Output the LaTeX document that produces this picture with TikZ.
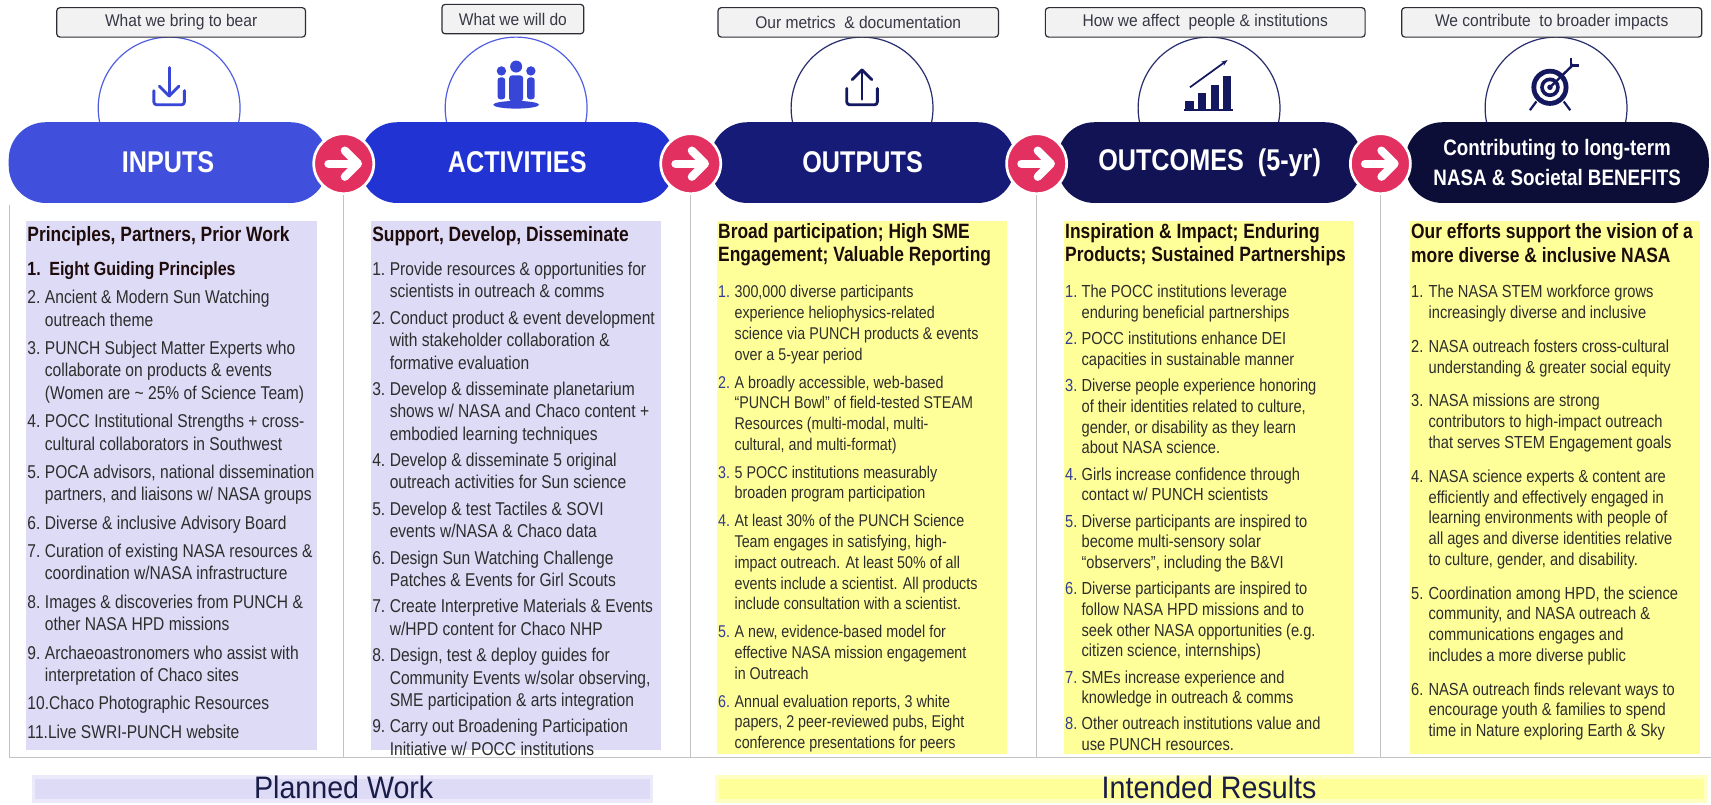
\documentclass[tikz,border=0pt]{standalone}
\usepackage{fontspec}
\setmainfont{Liberation Sans}[FakeStretch=0.84]
\newfontfamily\lblfont{Liberation Sans}[FakeStretch=0.92]
\usetikzlibrary{arrows.meta}

\definecolor{pillA}{RGB}{64,80,220}
\definecolor{pillB}{RGB}{34,51,212}
\definecolor{pillC}{RGB}{21,27,118}
\definecolor{pillD}{RGB}{17,19,84}
\definecolor{pillE}{RGB}{12,14,56}
\definecolor{pinkdot}{RGB}{226,48,96}
\definecolor{lav}{RGB}{222,219,246}
\definecolor{yel}{RGB}{255,255,153}
\definecolor{lblfill}{RGB}{242,242,242}
\definecolor{lblline}{RGB}{45,45,55}
\definecolor{lbltext}{RGB}{55,55,70}
\definecolor{domeA}{RGB}{80,95,225}
\definecolor{domeB}{RGB}{40,45,110}
\definecolor{iconA}{RGB}{55,70,215}
\definecolor{iconB}{RGB}{20,25,95}
\definecolor{sepgray}{RGB}{195,195,195}
\definecolor{bodytext}{RGB}{45,45,45}
\definecolor{headtext}{RGB}{30,12,12}
\definecolor{numblue}{RGB}{50,60,150}
\definecolor{bottext}{RGB}{25,28,70}

% item numbers and hanging indents
\newcommand{\inum}[1]{\makebox[16pt][l]{#1}}
\newcommand{\iind}{\hspace*{16pt}}
\newcommand{\ynum}[1]{\makebox[15pt][l]{\textcolor{numblue}{#1}}}
\newcommand{\yind}{\hspace*{15pt}}
\newcommand{\colhead}[1]{{\fontsize{19}{21}\selectfont\bfseries\color{headtext}#1}}

\begin{document}
\begin{tikzpicture}[x=1pt,y=-1pt]
	\tikzstyle{dome} = [circle, draw, fill=white, line width=1.1pt, minimum size=130pt, inner sep=0pt]
	\tikzstyle{pill} = [rectangle, rounded corners=34pt, minimum height=74pt, inner sep=0pt, text=white, align=center]
	\tikzstyle{arrowdot} = [circle, fill=pinkdot, draw=white, line width=2.5pt, minimum size=55pt, inner sep=0pt]
	\tikzstyle{wharrow} = [draw=white, line width=7.5pt, line cap=round, line join=round]
	\tikzstyle{lbl} = [rectangle, draw=lblline, fill=lblfill, rounded corners=3pt, line width=1.1pt, minimum height=27pt, inner sep=0pt, text=lbltext, font=\lblfont\fontsize{15.5}{17}\selectfont]
	\tikzstyle{colbox} = [rectangle, anchor=north west, minimum width=266pt, inner sep=0pt]
	\tikzstyle{txt} = [anchor=north west, align=left, inner sep=0pt, text=bodytext]
	\tikzstyle{sepline} = [draw=sepgray, line width=1.2pt]
	\tikzstyle{icon} = [line width=2.6pt, line cap=round, line join=round]
	\tikzstyle{bar} = [rectangle, minimum height=22pt, inner sep=0pt, line width=3pt]
	\tikzstyle{bottom} = [inner sep=0pt, text=bottext, font=\lblfont\fontsize{28.5}{30}\selectfont]

\path[use as bounding box, fill=white] (0,0) rectangle (1568,737);

%domes behind the pills
\foreach \name/\x/\c in {dome1/155/domeA, dome2/473/domeA, dome3/790/domeB, dome4/1108/domeB, dome5/1426/domeB}
	\node[dome, draw=\c] (\name) at (\x, 99) {};

%icons
\begin{scope}[shift={(dome1.center)}, iconA]
	\draw[icon] (0,-37) -- (0,-11);
	\draw[icon] (-9,-20) -- (0,-11) -- (9,-20);
	\draw[icon, rounded corners=2.5pt] (-14,-16) -- (-14,-3) -- (14,-3) -- (14,-16);
\end{scope}
\begin{scope}[shift={(dome2.center)}, iconA]
	\fill (0,-38) circle (5.5pt);
	\fill[rounded corners=3pt] (-6.5,-30) rectangle (6.5,-6);
	\fill (-13.5,-34) circle (4.3pt);
	\fill (13.5,-34) circle (4.3pt);
	\fill[rounded corners=2.5pt] (-17,-28) rectangle (-10,-8);
	\fill[rounded corners=2.5pt] (10,-28) rectangle (17,-8);
	\fill (0,-3) ellipse (21pt and 3.5pt);
\end{scope}
\begin{scope}[shift={(dome3.center)}, iconB]
	\draw[icon] (0,-8) -- (0,-35);
	\draw[icon] (-9,-26) -- (0,-35) -- (9,-26);
	\draw[icon, rounded corners=2.5pt] (-14,-18) -- (-14,-3) -- (14,-3) -- (14,-18);
\end{scope}
\begin{scope}[shift={(dome4.center)}, iconB]
	\fill (-22,1) rectangle (-14,-6.5);
	\fill (-10,1) rectangle (-2.5,-14);
	\fill (2,1) rectangle (9,-21.5);
	\fill (13,1) rectangle (20.5,-29.5);
	\draw[line width=1.8pt] (-23,1.5) -- (21.5,1.5);
	\draw[line width=1.6pt, -{Stealth[length=6pt]}] (-17.5,-19) -- (17,-44);
\end{scope}
\begin{scope}[shift={(dome5.center)}, iconB]
	\draw[line width=2pt] (-18,-6) -- (-24,2);
	\draw[line width=2pt] (7,-6) -- (13,2);
	\fill (-5.6,-19) circle (17pt);
	\fill[white] (-5.6,-19) circle (12.5pt);
	\fill (-5.6,-19) circle (9pt);
	\fill[white] (-5.6,-19) circle (5.5pt);
	\fill (-5.6,-19) circle (2.5pt);
	\draw[line width=2.2pt] (-5.6,-19) -- (16,-40);
	\draw[line width=2pt] (14,-46) -- (14,-39) -- (21,-39);
\end{scope}

%pills
\foreach \name/\x/\w/\c/\fs/\t in {pill1/154/292/pillA/27.5/INPUTS, pill2/474/288/pillB/27.5/ACTIVITIES, pill3/790.5/279/pillC/27.5/OUTPUTS, pill4/1108.5/279/pillD/27.5/{OUTCOMES\ \ (5-yr)}, pill5/1427/278/pillE/20.5/{Contributing to long-term\\NASA \& Societal BENEFITS}}
	\node[pill, fill=\c, minimum width=\w pt, font=\fontsize{\fs}{27}\selectfont\bfseries] (\name) at (\x, 149) {\t};

%arrows between the pills
\foreach \name/\x in {arr1/315, arr2/633, arr3/950, arr4/1265} {
	\node[arrowdot] (\name) at (\x, 150) {};
	\draw[wharrow] ([xshift=-14pt]\name.center) -- ([xshift=11pt]\name.center);
	\draw[wharrow] ([xshift=1pt,yshift=12pt]\name.center) -- ([xshift=13pt]\name.center) -- ([xshift=1pt,yshift=-12pt]\name.center);
}

%labels on top
\foreach \name/\x/\y/\w/\t in {lbl1/166/20.5/228/What we bring to bear, lbl2/470/17.5/130/What we will do, lbl3/786.5/20.5/257/{Our metrics\ \ \& documentation}, lbl4/1104.5/20.5/293/{How we affect\ \ people \& institutions}, lbl5/1422/20.5/275/{We contribute\ \ to broader impacts}}
	\node[lbl, minimum width=\w pt] (\name) at (\x, \y) {\t};

%column boxes
\foreach \name/\x/\c/\h in {box1/24/lav/485, box2/340/lav/485, box3/657/yel/489, box4/975/yel/489, box5/1292/yel/489}
	\node[colbox, fill=\c, minimum height=\h pt] (\name) at (\x, 202) {};

%separators
\coordinate (topL) at (9,188);
\coordinate (baseL) at (9,694);
\coordinate (baseR) at (1568,694);
\draw[sepline] (topL) -- (baseL) -- (baseR);
\foreach \a in {arr1, arr2, arr3, arr4}
	\draw[sepline] (\a.south) -- (\a.south |- baseL);

%column texts
\node[txt, font=\fontsize{17}{20.5}\selectfont] (t1) at ([xshift=1pt,yshift=-5pt]box1.north west) {%
\colhead{Principles, Partners, Prior Work}\\[11pt]
{\fontsize{17.5}{21}\selectfont\bfseries\color{headtext}\makebox[20pt][l]{1.}Eight Guiding Principles}\\[5.5pt]
\inum{2.}Ancient \& Modern Sun Watching\\
\iind outreach theme\\[5.5pt]
\inum{3.}PUNCH Subject Matter Experts who\\
\iind collaborate on products \& events\\
\iind (Women are \textasciitilde{} 25\% of Science Team)\\[5.5pt]
\inum{4.}POCC Institutional Strengths + cross-\\
\iind cultural collaborators in Southwest\\[5.5pt]
\inum{5.}POCA advisors, national dissemination\\
\iind partners, and liaisons w/ NASA groups\\[5.5pt]
\inum{6.}Diverse \& inclusive Advisory Board\\[5.5pt]
\inum{7.}Curation of existing NASA resources \&\\
\iind coordination w/NASA infrastructure\\[5.5pt]
\inum{8.}Images \& discoveries from PUNCH \&\\
\iind other NASA HPD missions\\[5.5pt]
\inum{9.}Archaeoastronomers who assist with\\
\iind interpretation of Chaco sites\\[5.5pt]
10.Chaco Photographic Resources\\[5.5pt]
11.Live SWRI-PUNCH website};

\node[txt, font=\fontsize{17}{20.5}\selectfont] (t2) at ([xshift=1pt,yshift=-5pt]box2.north west) {%
\colhead{Support, Develop, Disseminate}\\[11pt]
\inum{1.}Provide resources \& opportunities for\\
\iind scientists in outreach \& comms\\[3.7pt]
\inum{2.}Conduct product \& event development\\
\iind with stakeholder collaboration \&\\
\iind formative evaluation\\[3.7pt]
\inum{3.}Develop \& disseminate planetarium\\
\iind shows w/ NASA and Chaco content +\\
\iind embodied learning techniques\\[3.7pt]
\inum{4.}Develop \& disseminate 5 original\\
\iind outreach activities for Sun science\\[3.7pt]
\inum{5.}Develop \& test Tactiles \& SOVI\\
\iind events w/NASA \& Chaco data\\[3.7pt]
\inum{6.}Design Sun Watching Challenge\\
\iind Patches \& Events for Girl Scouts\\[3.7pt]
\inum{7.}Create Interpretive Materials \& Events\\
\iind w/HPD content for Chaco NHP\\[3.7pt]
\inum{8.}Design, test \& deploy guides for\\
\iind Community Events w/solar observing,\\
\iind SME participation \& arts integration\\[3.7pt]
\inum{9.}Carry out Broadening Participation\\
\iind Initiative w/ POCC institutions};

\node[txt, font=\fontsize{15.6}{19}\selectfont] (t3) at ([xshift=1pt,yshift=-3pt]box3.north west) {%
\colhead{Broad participation; High SME}\\[2pt]
\colhead{Engagement; Valuable Reporting}\\[14pt]
\ynum{1.}300,000 diverse participants\\
\yind experience heliophysics-related\\
\yind science via PUNCH products \& events\\
\yind over a 5-year period\\[6.6pt]
\ynum{2.}A broadly accessible, web-based\\
\yind “PUNCH Bowl” of field-tested STEAM\\
\yind Resources (multi-modal, multi-\\
\yind cultural, and multi-format)\\[6.6pt]
\ynum{3.}5 POCC institutions measurably\\
\yind broaden program participation\\[6.6pt]
\ynum{4.}At least 30\% of the PUNCH Science\\
\yind Team engages in satisfying, high-\\
\yind impact outreach. At least 50\% of all\\
\yind events include a scientist. All products\\
\yind include consultation with a scientist.\\[6.6pt]
\ynum{5.}A new, evidence-based model for\\
\yind effective NASA mission engagement\\
\yind in Outreach\\[6.6pt]
\ynum{6.}Annual evaluation reports, 3 white\\
\yind papers, 2 peer-reviewed pubs, Eight\\
\yind conference presentations for peers};

\node[txt, font=\fontsize{16}{19}\selectfont] (t4) at ([xshift=1pt,yshift=-3pt]box4.north west) {%
\colhead{Inspiration \& Impact; Enduring}\\[2pt]
\colhead{Products; Sustained Partnerships}\\[14pt]
\ynum{1.}The POCC institutions leverage\\
\yind enduring beneficial partnerships\\[5pt]
\ynum{2.}POCC institutions enhance DEI\\
\yind capacities in sustainable manner\\[5pt]
\ynum{3.}Diverse people experience honoring\\
\yind of their identities related to culture,\\
\yind gender, or disability as they learn\\
\yind about NASA science.\\[5pt]
\ynum{4.}Girls increase confidence through\\
\yind contact w/ PUNCH scientists\\[5pt]
\ynum{5.}Diverse participants are inspired to\\
\yind become multi-sensory solar\\
\yind “observers”, including the B\&VI\\[5pt]
\ynum{6.}Diverse participants are inspired to\\
\yind follow NASA HPD missions and to\\
\yind seek other NASA opportunities (e.g.\\
\yind citizen science, internships)\\[5pt]
\ynum{7.}SMEs increase experience and\\
\yind knowledge in outreach \& comms\\[5pt]
\ynum{8.}Other outreach institutions value and\\
\yind use PUNCH resources.};

\node[txt, font=\fontsize{16}{19}\selectfont] (t5) at ([xshift=1pt,yshift=-3pt]box5.north west) {%
\colhead{Our efforts support the vision of a}\\[3pt]
\colhead{more diverse \& inclusive NASA}\\[13pt]
\inum{1.}The NASA STEM workforce grows\\
\iind increasingly diverse and inclusive\\[12pt]
\inum{2.}NASA outreach fosters cross-cultural\\
\iind understanding \& greater social equity\\[12pt]
\inum{3.}NASA missions are strong\\
\iind contributors to high-impact outreach\\
\iind that serves STEM Engagement goals\\[12pt]
\inum{4.}NASA science experts \& content are\\
\iind efficiently and effectively engaged in\\
\iind learning environments with people of\\
\iind all ages and diverse identities relative\\
\iind to culture, gender, and disability.\\[12pt]
\inum{5.}Coordination among HPD, the science\\
\iind community, and NASA outreach \&\\
\iind communications engages and\\
\iind includes a more diverse public\\[12pt]
\inum{6.}NASA outreach finds relevant ways to\\
\iind encourage youth \& families to spend\\
\iind time in Nature exploring Earth \& Sky};

%bottom bars
\node[bar, fill=lav, draw=lav!60, minimum width=566pt] (planbar) at (314, 723) {};
\node[bottom] (plan) at (315, 722) {Planned Work};
\node[bar, fill=yel, draw=yel!60, minimum width=906pt] (resbar) at (1110, 723) {};
\node[bottom] (res) at (1108, 722) {Intended Results};
\end{tikzpicture}
\end{document}
